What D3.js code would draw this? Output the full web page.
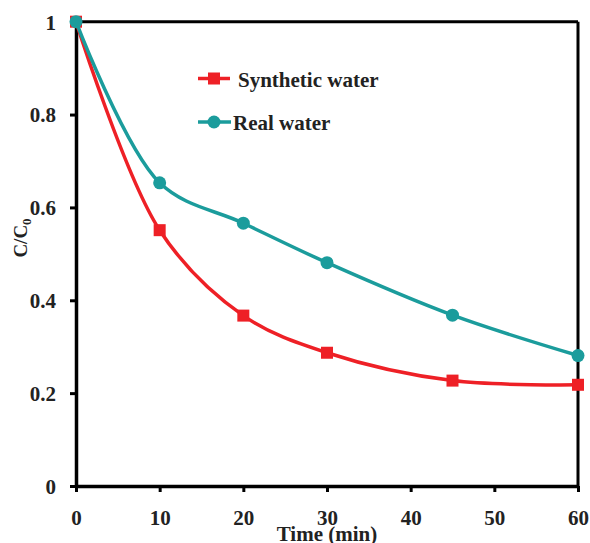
<!DOCTYPE html>
<html><head><meta charset="utf-8">
<script src="https://cdn.jsdelivr.net/npm/d3@7/dist/d3.min.js"></script>
<style>body{margin:0;background:#fff}svg{display:block}</style>
</head><body><svg id="c" width="590" height="543"></svg>
<script>
const times = [0, 10, 20, 30, 45, 60];
const synthetic = [1, 0.551, 0.367, 0.287, 0.227, 0.218];
const real = [1, 0.653, 0.566, 0.481, 0.368, 0.281];
const xTicks = [0, 10, 20, 30, 40, 50, 60];
const yTicks = [0, 0.2, 0.4, 0.6, 0.8, 1];
const seriesNames = ["Synthetic water", "Real water"];

const svg = d3.select("#c");
const font = "'Liberation Serif','Times New Roman',serif";
const x = d3.scaleLinear().domain([0, 60]).range([76, 578]);
const y = d3.scaleLinear().domain([0, 1]).range([486, 21.7]);
const red = "#ee2026", teal = "#1b9c9c";

// frame top/right
svg.append("line").attr("x1", x(0)).attr("x2", x(60)).attr("y1", y(1)).attr("y2", y(1)).attr("stroke", "#000").attr("stroke-width", 3);
svg.append("line").attr("x1", x(60)).attr("x2", x(60)).attr("y1", y(1)).attr("y2", y(0)).attr("stroke", "#000").attr("stroke-width", 3);

const xAxis = svg.append("g").attr("transform", `translate(0,${y(0)})`)
  .call(d3.axisBottom(x).tickValues(xTicks).tickSize(6).tickSizeOuter(0).tickPadding(18).tickFormat(d3.format("d")));
const yAxis = svg.append("g").attr("transform", `translate(${x(0)},0)`)
  .call(d3.axisLeft(y).tickValues(yTicks).tickSize(6).tickSizeOuter(0).tickPadding(14).tickFormat(d => d === 0 || d === 1 ? d3.format("d")(d) : d3.format(".1f")(d)));
[xAxis, yAxis].forEach(a => {
  a.select(".domain").attr("stroke", "#000").attr("stroke-width", 3.5);
  a.selectAll(".tick line").attr("stroke", "#000").attr("stroke-width", 3);
  a.selectAll("text").attr("font-family", font).attr("font-weight", "bold").attr("font-size", 21).attr("fill", "#222");
});
yAxis.selectAll("text").attr("dy", "0.35em");

svg.append("text").attr("x", 327).attr("y", 541).attr("text-anchor", "middle")
  .attr("font-family", font).attr("font-weight", "bold").attr("font-size", 21).attr("fill", "#222").text("Time (min)");
const yl = svg.append("text").attr("transform", "translate(27,238) rotate(-90)").attr("text-anchor", "middle")
  .attr("font-family", font).attr("font-weight", "bold").attr("font-size", 19).attr("fill", "#222");
yl.append("tspan").text("C/C");
yl.append("tspan").attr("font-size", 13).attr("dy", 4).text("0");

const line = d3.line().x(d => x(d[0])).y(d => y(d[1])).curve(d3.curveCatmullRom.alpha(0.5));
const sData = times.map((t, i) => [t, synthetic[i]]);
const rData = times.map((t, i) => [t, real[i]]);

svg.append("path").datum(sData).attr("d", line).attr("fill", "none").attr("stroke", red).attr("stroke-width", 3.5);
svg.selectAll(".sq").data(sData).enter().append("rect")
  .attr("x", d => x(d[0]) - 6).attr("y", d => y(d[1]) - 6).attr("width", 12).attr("height", 12).attr("fill", red);
svg.append("path").datum(rData).attr("d", line).attr("fill", "none").attr("stroke", teal).attr("stroke-width", 3.5);
svg.selectAll(".ci").data(rData).enter().append("circle")
  .attr("cx", d => x(d[0])).attr("cy", d => y(d[1])).attr("r", 6.5).attr("fill", teal);

// legend
const lg = svg.append("g");
lg.append("line").attr("x1", 198).attr("x2", 230).attr("y1", 78.5).attr("y2", 78.5).attr("stroke", red).attr("stroke-width", 3.5);
lg.append("rect").attr("x", 208).attr("y", 72.5).attr("width", 12).attr("height", 12).attr("fill", red);
lg.append("text").attr("x", 238).attr("y", 86.5).attr("font-family", font).attr("font-weight", "bold").attr("font-size", 21).attr("fill", "#222").text(seriesNames[0]);
lg.append("line").attr("x1", 198).attr("x2", 231).attr("y1", 122).attr("y2", 122).attr("stroke", teal).attr("stroke-width", 3.5);
lg.append("circle").attr("cx", 214).attr("cy", 122).attr("r", 6.5).attr("fill", teal);
lg.append("text").attr("x", 233).attr("y", 130).attr("font-family", font).attr("font-weight", "bold").attr("font-size", 21).attr("fill", "#222").text(seriesNames[1]);
</script></body></html>
